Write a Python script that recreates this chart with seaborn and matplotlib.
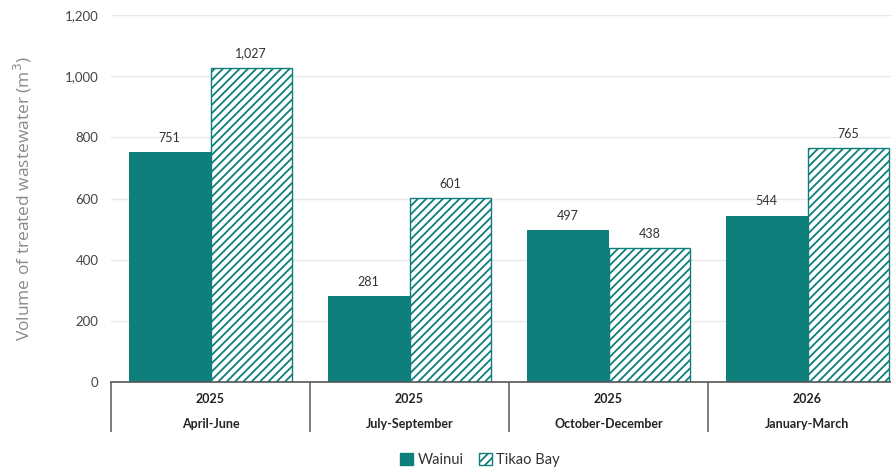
import matplotlib
matplotlib.use("Agg")
import matplotlib.pyplot as plt
from matplotlib.patches import Patch
import seaborn as sns
import pandas as pd

quarters = ["April-June", "July-September", "October-December", "January-March"]
years = ["2025", "2025", "2025", "2026"]
sites = ["Wainui", "Tikao Bay"]
wainui = [751, 281, 497, 544]
tikao_bay = [1027, 601, 438, 765]
y_ticks = [0, 200, 400, 600, 800, 1000, 1200]

teal = "#0e7f7b"

df = pd.DataFrame({
    "quarter": quarters * 2,
    "site": [sites[0]] * 4 + [sites[1]] * 4,
    "volume": wainui + tikao_bay,
})

sns.set_theme(style="white")
plt.rcParams["font.family"] = ["Lato", "DejaVu Sans"]
plt.rcParams["hatch.linewidth"] = 1.3
plt.rcParams["hatch.color"] = teal

fig = plt.figure(figsize=(8.91, 4.70), dpi=100)
ax = fig.add_axes([111 / 891, 88 / 470, 796 / 891, 367 / 470])

sns.barplot(data=df, x="quarter", y="volume", hue="site", order=quarters,
            hue_order=sites, palette=[teal, teal], width=0.82, ax=ax,
            legend=False, saturation=1)

for bar, site in zip(ax.patches, [sites[0]] * 4 + [sites[1]] * 4):
    if site == "Tikao Bay":
        bar.set_facecolor("white")
        bar.set_hatch("////")
        bar.set_edgecolor(teal)
        bar.set_linewidth(1.0)
    else:
        bar.set_linewidth(0)

for cont in ax.containers:
    ax.bar_label(cont, labels=[f"{v:,.0f}" for v in cont.datavalues],
                 padding=6, fontsize=9, color="#333333")

ax.set_ylim(0, 1200)
ax.set_yticks(y_ticks)
ax.set_yticklabels([f"{v:,}" for v in y_ticks], fontsize=9.5, color="#444444")
ax.yaxis.grid(True, color="#e8e8e8", linewidth=1)
ax.set_axisbelow(True)
ax.tick_params(axis="y", length=0, pad=9)

ax.set_xlim(-0.5, 3.5)
ax.set_xticks(range(4))
ax.set_xticklabels([])
ax.set_xticks([-0.5, 0.5, 1.5, 2.5, 3.5], minor=True)
ax.tick_params(axis="x", which="major", length=0)
ax.tick_params(axis="x", which="minor", length=36, width=1.2, color="#666666",
               direction="out", bottom=True)
ax.set_xlabel("")
ax.set_ylabel("Volume of treated wastewater (m$^3$)", fontsize=12.5,
              color="#8a8a8a", labelpad=22, family="Open Sans")

for s in ["top", "right", "left"]:
    ax.spines[s].set_visible(False)
ax.spines["bottom"].set_color("#555555")
ax.spines["bottom"].set_linewidth(1.2)

trans = ax.get_xaxis_transform()
for i, (yr, q) in enumerate(zip(years, quarters)):
    ax.annotate(yr, xy=(i, 0), xycoords=trans, xytext=(0, -12.5),
                textcoords="offset points", ha="center", va="center",
                fontsize=9, fontweight="bold", color="#222222")
    ax.annotate(q, xy=(i, 0), xycoords=trans, xytext=(0, -30),
                textcoords="offset points", ha="center", va="center",
                fontsize=9, fontweight="bold", color="#222222")

handles = [Patch(facecolor=teal, edgecolor=teal, label="Wainui"),
           Patch(facecolor="white", edgecolor=teal, hatch="////", label="Tikao Bay")]
fig.legend(handles=handles, loc="center", bbox_to_anchor=(480 / 891, 1 - 460 / 470),
           ncol=2, frameon=False, fontsize=10.5, handlelength=0.9, handleheight=0.9,
           handletextpad=0.3, columnspacing=1.0, labelcolor="#333333")

fig.savefig("out.png", dpi=100)
